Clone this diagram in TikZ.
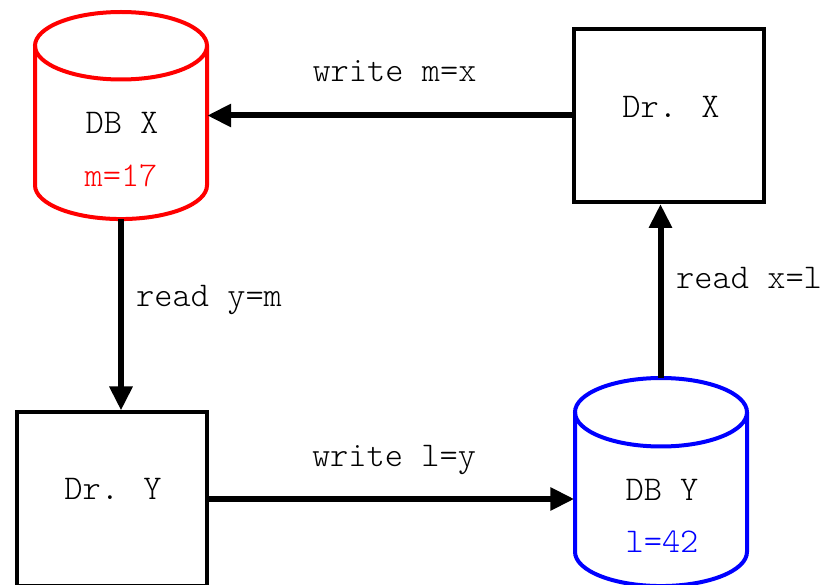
\documentclass[tikz,border=0pt]{standalone}
\usetikzlibrary{arrows.meta}
\definecolor{dbred}{RGB}{255,0,0}
\definecolor{dbblue}{RGB}{0,0,255}
\begin{document}
\begin{tikzpicture}[x=1pt,y=-1pt,
  txt/.style={font=\ttfamily\fontseries{l}\fontsize{34.7}{40}\selectfont, inner sep=0pt},
  drbox/.style={draw, line width=4pt, minimum width=190pt, minimum height=173pt, inner sep=0pt},
  cylhold/.style={draw=none, minimum width=172pt, inner sep=0pt},
  conn/.style={line width=6pt, -{Triangle[length=24pt,width=22pt]}},
  cylline/.style={line width=4pt}]
\useasboundingbox (0,0) rectangle (823,585);
\clip (0,0) rectangle (823,585);

% Doctor boxes
\node[drbox] (drx) at (669,115.5) {};
\node[drbox] (dry) at (111.5,499) {};
\node[txt, anchor=base] (drxt) at (671,117.3) {Dr. X};
\node[txt, anchor=base] (dryt) at (113,500) {Dr. Y};

% DB X cylinder
\node[cylhold, minimum height=207pt] (dbx) at (121,115.5) {};
\draw[cylline, dbred, fill=white] (35,45.75) -- (35,185.3) arc[start angle=180, end angle=360, x radius=86, y radius=-33.75] -- (207,45.75);
\draw[cylline, dbred] (121,45.75) ellipse[x radius=86, y radius=33.75];
\node[txt, anchor=base] (dbxt) at (122,134) {DB X};
\node[txt, anchor=base, text=dbred] (dbxv) at (121,187) {m=17};

% DB Y cylinder
\node[cylhold, minimum height=207pt] (dby) at (660.5,482) {};
\draw[cylline, dbblue, fill=white] (575,412.25) -- (575,551.8) arc[start angle=180, end angle=360, x radius=86, y radius=-34.25] -- (747,412.25);
\draw[cylline, dbblue] (661,412.25) ellipse[x radius=86, y radius=34.25];
\node[txt, anchor=base] (dbyt) at (662,500.7) {DB Y};
\node[txt, anchor=base, text=dbblue] (dbyv) at (662,552.7) {l=42};

% connectors
\draw[conn] (drx.west |- dbx.east) -- (dbx.east);
\draw[conn] (dbx.south) -- (dbx.south |- dry.north);
\draw[conn] (dry.east) -- (dry.east -| dby.west);
\draw[conn] (dby.north) -- (dby.north |- drx.south);

% connector labels
\node[txt, anchor=base] (lwm) at (394.5,81.7) {write m=x};
\node[txt, anchor=base west] (lry) at (136,306.7) {read y=m};
\node[txt, anchor=base] (lwl) at (394,466.7) {write l=y};
\node[txt, anchor=base west] (lrx) at (676,288.3) {read x=l};
\end{tikzpicture}
\end{document}
